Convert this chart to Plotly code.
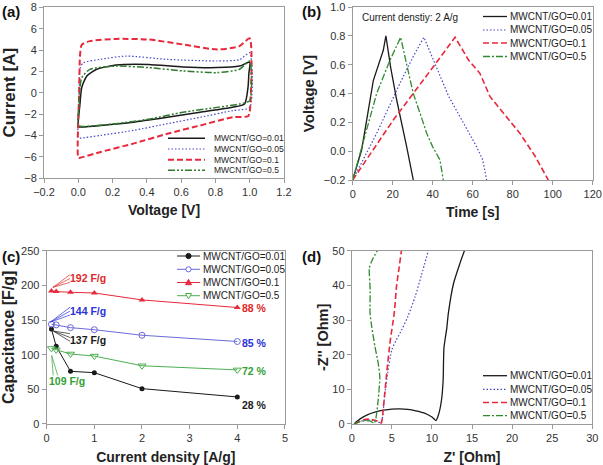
import plotly.graph_objects as go

# ---------------- data ----------------
series_names = ["MWCNT/GO=0.01", "MWCNT/GO=0.05", "MWCNT/GO=0.1", "MWCNT/GO=0.5"]

# (a) cyclic voltammetry
cv_v_001 = [0, 0.01, 0.02, 0.05, 0.107, 0.22, 0.41, 0.61, 0.81, 0.94, 1.0, 0.995, 0.99, 0.97, 0.9, 0.71, 0.52, 0.32, 0.13, 0.01, 0]
cv_i_001 = [-3.2, -1.0, 0.5, 1.58, 2.2, 2.6, 2.66, 2.42, 2.36, 2.5, 2.88, 1.8, 0.5, -1.05, -1.36, -1.83, -2.3, -2.76, -3.07, -3.22, -3.2]
cv_v_005 = [0, 0.005, 0.01, 0.03, 0.127, 0.28, 0.52, 0.81, 0.94, 1.0, 1.0, 0.9, 0.71, 0.52, 0.32, 0.13, 0.01, 0]
cv_i_005 = [-4.2, 0, 2.3, 2.82, 3.13, 3.44, 3.13, 2.98, 3.1, 3.75, -1.37, -1.67, -2.3, -2.9, -3.53, -4.0, -4.25, -4.2]
cv_v_01 = [0, 0.005, 0.01, 0.02, 0.067, 0.22, 0.41, 0.61, 0.81, 0.94, 1.0, 1.0, 0.99, 0.9, 0.71, 0.52, 0.32, 0.13, 0.01, 0]
cv_i_01 = [-6.1, 0, 3.5, 4.5, 4.84, 5.05, 4.99, 4.53, 4.06, 4.37, 5.1, -1.8, -2.2, -2.3, -3.07, -3.84, -4.77, -5.55, -6.1, -6.1]
cv_v_05 = [0, 0.005, 0.01, 0.02, 0.067, 0.22, 0.41, 0.61, 0.81, 0.94, 1.0, 1.0, 0.94, 0.81, 0.61, 0.42, 0.22, 0.03, 0]
cv_i_05 = [-3.1, -1.0, 0.5, 1.42, 2.2, 2.5, 2.36, 2.05, 1.89, 2.2, 2.98, -0.74, -1.05, -1.37, -1.83, -2.45, -2.9, -3.16, -3.1]

# (b) galvanostatic charge/discharge
gcd_t_001 = [0, 4.5, 10.3, 13, 15.3, 16.6, 19, 22, 25, 27, 30.3]
gcd_v_001 = [-0.2, 0.01, 0.49, 0.6, 0.7, 0.8, 0.58, 0.355, 0.17, 0.03, -0.2]
gcd_t_005 = [0, 12, 23.6, 30, 35.6, 40, 43.6, 48, 53.6, 58, 62, 65, 67]
gcd_v_005 = [-0.2, 0.124, 0.47, 0.65, 0.79, 0.64, 0.52, 0.38, 0.24, 0.13, 0.03, -0.06, -0.2]
gcd_t_01 = [0, 20.3, 40.3, 51.2, 58, 63.6, 68.6, 76, 83.6, 91, 97.8]
gcd_v_01 = [-0.2, 0.216, 0.586, 0.79, 0.63, 0.54, 0.38, 0.25, 0.124, -0.03, -0.2]
gcd_t_05 = [0, 6, 12, 18.6, 24, 27, 30.3, 34, 37, 40, 43.6, 45.3]
gcd_v_05 = [-0.2, 0.1, 0.40, 0.63, 0.79, 0.6, 0.4, 0.25, 0.124, 0.03, -0.06, -0.2]

# (c) rate capability
current_density = [0.1, 0.2, 0.5, 1, 2, 4]
cap_001 = [137, 112, 76, 74, 51, 39]
cap_005 = [144, 143, 139, 136, 128, 119]
cap_01 = [192, 191, 190, 189, 179, 168]
cap_05 = [109, 107, 101, 98, 84, 78]
cap_labels = ["192 F/g", "144 F/g", "137 F/g", "109 F/g"]
retention_labels = ["88 %", "85 %", "72 %", "28 %"]

# (d) Nyquist
z_re_001 = [0.3, 1, 2, 3, 4, 5, 6, 7, 8, 9, 10, 10.5, 10.8, 11.2, 11.4, 11.5, 11.85, 12.05, 12.7, 13.5, 14.05]
z_im_001 = [0, 1.4, 2.7, 3.5, 4.0, 4.3, 4.35, 4.2, 3.8, 3.2, 2.0, 1.0, 2.5, 7, 12.7, 22, 27.6, 32, 40.6, 46.4, 50]
z_re_005 = [0.4, 1, 2, 3, 3.6, 3.8, 4.1, 4.5, 5.0, 5.5, 6.2, 7, 7.9, 8.7, 9.55]
z_im_005 = [0, 0.7, 1.2, 0.9, 0.4, 1.5, 8, 15, 21.4, 24, 27, 31, 36.7, 43, 50]
z_re_01 = [0.4, 1, 1.5, 2, 2.5, 3, 3.5, 3.7, 3.8, 4.0, 4.4, 4.8, 5.3, 5.6, 5.9, 6.2]
z_im_01 = [0, 0.8, 1.2, 1.4, 1.3, 1.0, 0.5, 0.3, 1.5, 6, 15.6, 24, 32, 40, 45, 50]
z_re_05 = [0.3, 1, 1.7, 2.3, 2.8, 3.0, 3.3, 3.5, 3.3, 2.9, 2.5, 2.28, 2.3, 2.2, 2.6, 3.2]
z_im_05 = [0, 0.7, 1.0, 0.8, 0.3, 1.5, 7, 13.6, 17.5, 22.3, 28, 32, 38.7, 45, 47.5, 50]

# ---------------- styles ----------------
FONT = "Liberation Sans, Arial, sans-serif"
W, H = 603, 465
BLACK = "#1a1a1a"
BLUE = "#4646c8"
RED = "#e8283c"
GREEN_A = "#2f7a2f"
GREEN = "#2e8b2e"
GREEN_C = "#4caf50"
BLUE_C = "#6a6ad8"
DOT = "1.5px,2px"
DASH_RED = "6px,3px"
DASHDOT2 = "7px,2px,2px,2px,2px,2px"
DASHDOT = "7px,2px,2px,2px"

fig = go.Figure()

def add_line(x, y, name, color, dash, width, xa, ya, spline=False):
    fig.add_trace(go.Scatter(
        x=x, y=y, name=name, mode="lines", showlegend=False,
        line=dict(color=color, dash=dash, width=width,
                  shape="spline" if spline else "linear", smoothing=0.6),
        xaxis=xa, yaxis=ya))

# (a)
a_styles = [(BLACK, "solid", 1.5), (BLUE, DOT, 1.2), (RED, DASH_RED, 2), (GREEN_A, DASHDOT2, 1.5)]
for (x, y), nm, st in zip([(cv_v_001, cv_i_001), (cv_v_005, cv_i_005), (cv_v_01, cv_i_01), (cv_v_05, cv_i_05)],
                          series_names, a_styles):
    add_line(x, y, nm, st[0], st[1], st[2], "x", "y", True)

# (b)
b_styles = [(BLACK, "solid", 1.3), (BLUE, DOT, 1.2), (RED, DASH_RED, 1.6), (GREEN, DASHDOT, 1.3)]
for (x, y), nm, st in zip([(gcd_t_001, gcd_v_001), (gcd_t_005, gcd_v_005), (gcd_t_01, gcd_v_01), (gcd_t_05, gcd_v_05)],
                          series_names, b_styles):
    add_line(x, y, nm, st[0], st[1], st[2], "x2", "y2")

# (c)
c_specs = [
    (cap_001, BLACK, dict(symbol="circle", size=5, color=BLACK)),
    (cap_005, BLUE_C, dict(symbol="circle-open", size=6, color=BLUE_C, line=dict(width=1))),
    (cap_01, RED, dict(symbol="triangle-up", size=6, color=RED)),
    (cap_05, GREEN_C, dict(symbol="triangle-down-open", size=7, color=GREEN_C, line=dict(width=1))),
]
for (vals, col, mk), nm in zip(c_specs, series_names):
    fig.add_trace(go.Scatter(x=current_density, y=vals, name=nm, mode="lines+markers", showlegend=False,
                             line=dict(color=col, width=1), marker=mk,
                             xaxis="x3", yaxis="y3"))

# (d)
d_styles = [(BLACK, "solid", 1.3), (BLUE, DOT, 1.2), (RED, DASH_RED, 1.6), (GREEN, DASHDOT, 1.3)]
for (x, y), nm, st in zip([(z_re_001, z_im_001), (z_re_005, z_im_005), (z_re_01, z_im_01), (z_re_05, z_im_05)],
                          series_names, d_styles):
    add_line(x, y, nm, st[0], st[1], st[2], "x4", "y4", True)

def axis(domain, rng, dtick, title, fmt=None, anchor=None, standoff=6, tsize=14):
    d = dict(domain=domain, range=rng, dtick=dtick, tick0=rng[0], showgrid=False, zeroline=False,
             showline=True, linecolor="#9a9a9a", linewidth=1, mirror=True, automargin=False,
             ticklabeloverflow="allow",
             ticks="outside", ticklen=4, tickcolor="#9a9a9a",
             tickfont=dict(family=FONT, size=11, color="#333333"),
             title=dict(text="<b>" + title + "</b>", standoff=standoff,
                        font=dict(family=FONT, size=tsize, color="#222222")),
             anchor=anchor)
    if fmt:
        d["tickformat"] = fmt
    return d

fig.update_layout(
    width=W, height=H, margin=dict(l=0, r=0, t=0, b=0),
    paper_bgcolor="white", plot_bgcolor="white",
    font=dict(family=FONT, color="#222222"),
    showlegend=False,
    xaxis=axis([0.0730, 0.4710], [-0.2, 1.2], 0.2, "Voltage [V]", ".1f", "y", 7),
    yaxis=axis([0.617, 0.984], [-8, 8], 2, "Current [A]", None, "x", 8, 17),
    xaxis2=axis([0.5849, 0.9829], [0, 120], 20, "Time [s]", None, "y2", 7),
    yaxis2=axis([0.6129, 0.9849], [-0.2, 1.0], 0.2, "Voltage [V]", ".1f", "x2", 5, 15),
    xaxis3=axis([0.0774, 0.4726], [0, 5], 1, "Current density [A/g]", None, "y3", 18),
    yaxis3=axis([0.0882, 0.4609], [0, 250], 50, "Capacitance [F/g]", None, "x3", 8, 16),
    xaxis4=axis([0.5833, 0.9823], [0, 30], 5, "Z' [Ohm]", None, "y4", 18),
    yaxis4=axis([0.0882, 0.4609], [0, 50], 10, "-Z'' [Ohm]", None, "x4", 0, 14.5),
)

# ---------- compact legends (as in the reference) ----------
def legend_block(x_line0, x_line1, x_text, rows_y, styles, fsize, markers=None):
    for i, (nm, st, ry) in enumerate(zip(series_names, styles, rows_y)):
        yp = 1 - ry / H
        fig.add_shape(type="line", xref="paper", yref="paper",
                      x0=x_line0 / W, x1=x_line1 / W, y0=yp, y1=yp,
                      line=dict(color=st[0], dash=st[1], width=st[2]))
        if markers:
            kind, col = markers[i]
            xm = (x_line0 + x_line1) / 2 / W
            if kind == "circle" or kind == "circle-open":
                fig.add_shape(type="circle", xref="paper", yref="paper",
                              xsizemode="pixel", ysizemode="pixel", xanchor=xm, yanchor=yp,
                              x0=-2.6, x1=2.6, y0=-2.6, y1=2.6,
                              fillcolor=col if kind == "circle" else "white",
                              line=dict(color=col, width=1))
            elif kind == "tri-up":
                fig.add_shape(type="path", xref="paper", yref="paper",
                              xsizemode="pixel", ysizemode="pixel", xanchor=xm, yanchor=yp,
                              path="M-3,-2.2 L3,-2.2 L0,3.2 Z", fillcolor=col,
                              line=dict(color=col, width=1))
            elif kind == "tri-down-open":
                fig.add_shape(type="path", xref="paper", yref="paper",
                              xsizemode="pixel", ysizemode="pixel", xanchor=xm, yanchor=yp,
                              path="M-3,2.2 L3,2.2 L0,-3.2 Z", fillcolor="white",
                              line=dict(color=col, width=1))
        fig.add_annotation(text=nm, xref="paper", yref="paper", x=x_text / W, y=yp,
                           xanchor="left", yanchor="middle", showarrow=False,
                           font=dict(family=FONT, size=fsize, color="#222222"))

legend_block(168, 205, 212, [138.3, 149, 159.7, 170.3], a_styles, 8.5)
legend_block(483, 507, 508, [16.5, 30, 43, 56.5], b_styles, 10)
legend_block(177, 200, 201, [256, 269.3, 282.5, 295.7],
             [(BLACK, "solid", 1), (BLUE_C, "solid", 1), (RED, "solid", 1), (GREEN_C, "solid", 1)], 10,
             markers=[("circle", BLACK), ("circle-open", BLUE_C), ("tri-up", RED), ("tri-down-open", GREEN_C)])
legend_block(483, 507, 508, [375.7, 389.3, 402.5, 415.7], d_styles, 10)

# panel labels
for txt, px, py in [("(a)", 0.0, 0.975), ("(b)", 0.497, 0.975), ("(c)", 0.0, 0.448), ("(d)", 0.497, 0.448)]:
    fig.add_annotation(text="<b>" + txt + "</b>", xref="paper", yref="paper", x=px, y=py,
                       xanchor="left", yanchor="middle", showarrow=False,
                       font=dict(family=FONT, size=15, color="#111"))

# (b) note
fig.add_annotation(text="Current denstiy: 2 A/g", xref="x2", yref="y2", x=3.5, y=0.93,
                   xanchor="left", yanchor="middle", showarrow=False,
                   font=dict(family=FONT, size=10, color="#222"))

# (c) labels
label_colors = ["#e02828", "#2a32d8", "#1a1a1a", "#34a034"]
label_pos = [(0.86, 211), (0.86, 163), (0.87, 121), (0.42, 62)]
for txt, col, (lx, ly) in zip(cap_labels, label_colors, label_pos):
    fig.add_annotation(text="<b>" + txt + "</b>", xref="x3", yref="y3", x=lx, y=ly,
                       showarrow=False, font=dict(family=FONT, size=10.5, color=col))
ret_colors = ["#e02828", "#2a32d8", "#34a034", "#1a1a1a"]
ret_y = [168, 117, 77, 28]
for txt, col, ry in zip(retention_labels, ret_colors, ret_y):
    fig.add_annotation(text="<b>" + txt + "</b>", xref="x3", yref="y3", x=4.37, y=ry,
                       showarrow=False, font=dict(family=FONT, size=10.5, color=col))

# pointer lines (c)
pointer_lines = [
    ("#e02828", (0.13, 197), [(0.52, 217), (0.52, 211), (0.52, 205)]),
    ("#2a32d8", (0.08, 147), [(0.52, 170), (0.52, 164), (0.52, 158)]),
    ("#1a1a1a", (0.14, 134), [(0.52, 130), (0.52, 124), (0.52, 118)]),
    ("#34a034", (0.105, 99), [(0.14, 68), (0.24, 68)]),
]
for col, (tx, ty), tails in pointer_lines:
    for (ax_, ay_) in tails:
        fig.add_annotation(text="", xref="x3", yref="y3", x=tx, y=ty,
                           axref="x3", ayref="y3", ax=ax_, ay=ay_,
                           showarrow=True, arrowhead=0, arrowwidth=0.7, arrowcolor=col)

fig.write_html("out.html")
